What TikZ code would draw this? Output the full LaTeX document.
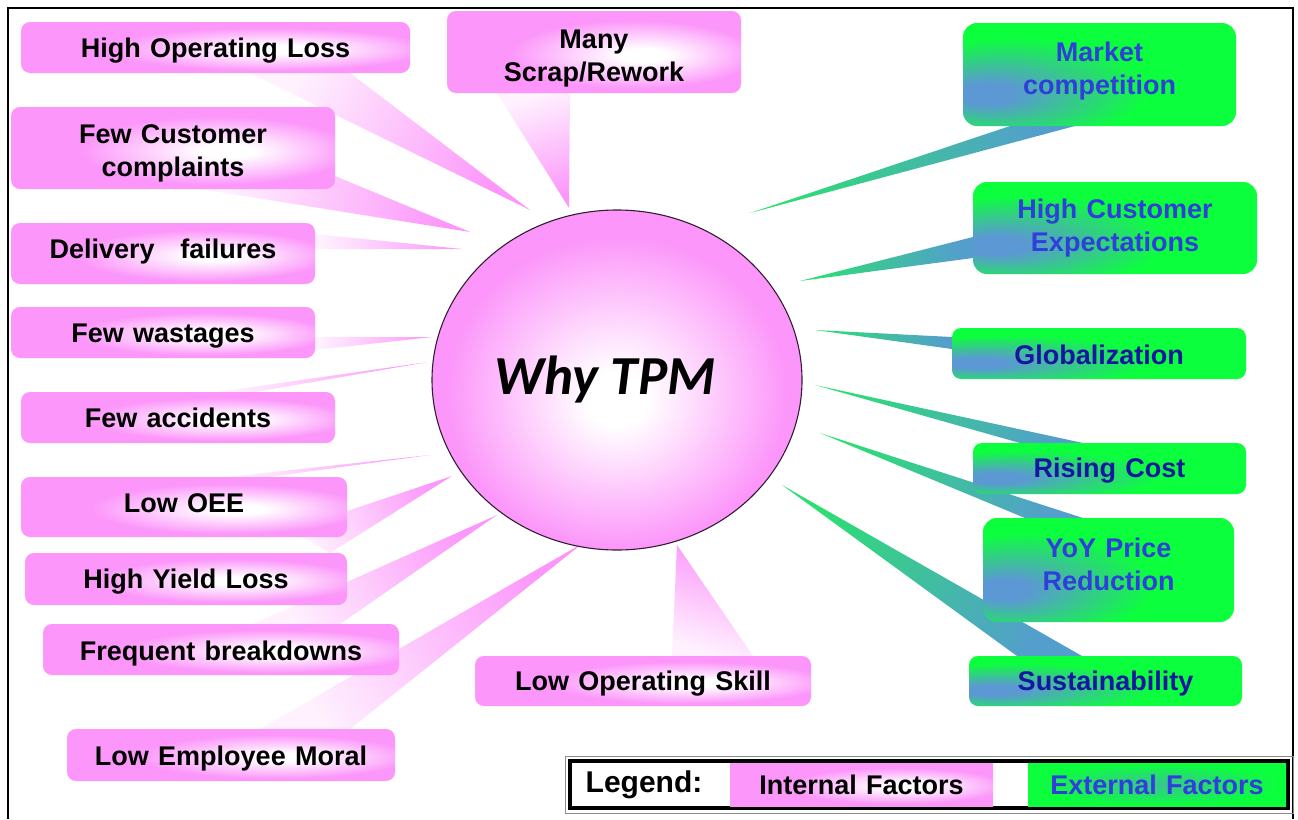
\documentclass[tikz,border=0pt]{standalone}
\usepackage{fontspec}
\setmainfont{Liberation Sans}[WordSpace=1.25]
\newfontfamily\calib{Carlito}
\usetikzlibrary{shapes.geometric}
\definecolor{pinkc}{RGB}{252,150,250}
\definecolor{gblue}{RGB}{92,152,212}
\definecolor{ggreen}{RGB}{12,255,60}
\definecolor{wtip}{RGB}{45,222,115}
\definecolor{wbase}{RGB}{84,158,205}
\definecolor{tblue}{RGB}{48,62,218}
\definecolor{tnavy}{RGB}{22,22,158}
\pgfdeclareradialshading{pinkglow}{\pgfpoint{9bp}{-2bp}}{color(0bp)=(white); color(4bp)=(white); color(21bp)=(pinkc); color(80bp)=(pinkc)}
\pgfdeclareradialshading{greenglow}{\pgfpoint{-22bp}{-10bp}}{color(0bp)=(gblue); color(5bp)=(gblue); color(25bp)=(ggreen); color(90bp)=(ggreen)}
\pgfdeclareradialshading{greenmid}{\pgfpoint{0bp}{0bp}}{color(0bp)=(gblue!55!ggreen); color(8bp)=(gblue!40!ggreen); color(24bp)=(ggreen); color(80bp)=(ggreen)}
\pgfdeclareradialshading{ballpink}{\pgfpoint{0bp}{-3bp}}{color(0bp)=(white); color(4bp)=(white); color(23bp)=(pinkc); color(60bp)=(pinkc)}
\newcommand\boxfont{\bfseries\fontsize{27}{33}\selectfont}
% text placed in a tabular, lowered (negative raise) without changing its box
\newcommand\tx[2]{\raisebox{#1}[\height][\depth]{\begin{tabular}{@{}c@{}}#2\end{tabular}}}
\newcommand\pwedge[4]{\shade[top color=pinkc!12!white, bottom color=pinkc, shading angle=#4] (#1) -- (#2) -- (#3) -- cycle;}
\newcommand\gwedge[4]{\shade[top color=wbase, bottom color=wtip, shading angle=#4] (#1) -- (#2) -- (#3) -- cycle;}
\begin{document}
\begin{tikzpicture}[x=1pt,y=-1pt,
  pbox/.style={shade, shading=pinkglow, rounded corners=9pt, inner sep=0pt, font=\boxfont, text=black},
  gbox/.style={shade, shading=greenglow, rounded corners=14pt, inner sep=0pt, font=\boxfont, text=tblue},
  frameline/.style={line width=1.2pt, black}]
\useasboundingbox (0,0) rectangle (1298,819);
\fill[white] (0,0) rectangle (1298,819);
\draw[frameline] (8,819) -- (8,8) -- (1293,8) -- (1293,819);

% wedge coordinates (pink)
\coordinate (holA) at (250,73);  \coordinate (holT) at (530,210); \coordinate (holB) at (350,73);
\coordinate (msrA) at (497,93);  \coordinate (msrT) at (569,208); \coordinate (msrB) at (570,93);
\coordinate (fccA) at (200,189); \coordinate (fccT) at (470,232); \coordinate (fccB) at (335,176);
\coordinate (dfA) at (315,234);  \coordinate (dfT) at (462,249);  \coordinate (dfB) at (315,249);
\coordinate (fwA) at (315,337);  \coordinate (fwT) at (432,337);  \coordinate (fwB) at (315,350);
\coordinate (faA) at (217,392);  \coordinate (faT) at (428,362);  \coordinate (faB) at (255,392);
\coordinate (oeeA) at (227,477); \coordinate (oeeT) at (430,455); \coordinate (oeeB) at (268,477);
\coordinate (hylA) at (290,530); \coordinate (hylT) at (452,476); \coordinate (hylB) at (330,553);
\coordinate (fbA) at (253,624);  \coordinate (fbT) at (497,515);  \coordinate (fbB) at (340,624);
\coordinate (lemA) at (260,729); \coordinate (lemT) at (583,543); \coordinate (lemB) at (350,729);
\coordinate (losA) at (672,656); \coordinate (losT) at (677,545); \coordinate (losB) at (753,656);
% wedge coordinates (green)
\coordinate (mcA) at (1010,126); \coordinate (mcT) at (750,213);  \coordinate (mcB) at (1075,126);
\coordinate (hceA) at (973,237); \coordinate (hceT) at (800,281); \coordinate (hceB) at (973,258);
\coordinate (glA) at (952,337);  \coordinate (glT) at (815,330);  \coordinate (glB) at (952,349);
\coordinate (rcA) at (1020,443); \coordinate (rcT) at (815,385);  \coordinate (rcB) at (1083,443);
\coordinate (yoyA) at (1025,518);\coordinate (yoyT) at (820,433); \coordinate (yoyB) at (1083,518);
\coordinate (suA) at (1017,656); \coordinate (suT) at (782,485);  \coordinate (suB) at (1082,656);

\pwedge{holA}{holT}{holB}{59}
\pwedge{msrA}{msrT}{msrB}{17}
\pwedge{fccA}{fccT}{fccB}{76}
\pwedge{dfA}{dfT}{dfB}{88}
\pwedge{fwA}{fwT}{fwB}{93}
\pwedge{faA}{faT}{faB}{99}
\pwedge{oeeA}{oeeT}{oeeB}{97}
\pwedge{hylA}{hylT}{hylB}{115}
\pwedge{fbA}{fbT}{fbB}{119}
\pwedge{lemA}{lemT}{lemB}{124}
\pwedge{losA}{losT}{losB}{163}
\gwedge{mcA}{mcT}{mcB}{-73}
\gwedge{hceA}{hceT}{hceB}{-79}
\gwedge{glA}{glT}{glB}{-95}
\gwedge{rcA}{rcT}{rcB}{-104}
\gwedge{yoyA}{yoyT}{yoyB}{-110}
\gwedge{suA}{suT}{suB}{-122}

% internal factor boxes
\node[pbox, minimum width=389pt, minimum height=51pt] (hol) at (215.5,47.5) {\tx{-3.5pt}{High Operating Loss}};
\node[pbox, minimum width=324pt, minimum height=82pt] (fcc) at (173,148) {\tx{-5.5pt}{Few Customer\\complaints}};
\node[pbox, minimum width=304pt, minimum height=61pt] (df) at (163,253.5) {\tx{2pt}{Delivery\hspace{0.6em} failures}};
\node[pbox, minimum width=304pt, minimum height=51pt] (fw) at (163,332.5) {\tx{-3.5pt}{Few wastages}};
\node[pbox, minimum width=314pt, minimum height=51pt] (fa) at (178,417.5) {\tx{-3pt}{Few accidents}};
\node[pbox, minimum width=326pt, minimum height=60pt] (oee) at (184,507) {\tx{1.5pt}{Low OEE}};
\node[pbox, minimum width=322pt, minimum height=52pt] (hyl) at (186,579) {\tx{-3pt}{High Yield Loss}};
\node[pbox, minimum width=356pt, minimum height=51pt] (fb) at (221,649.5) {\tx{-4pt}{Frequent breakdowns}};
\node[pbox, minimum width=328pt, minimum height=52pt] (lem) at (231,755) {\tx{-3.5pt}{Low Employee Moral}};
\node[pbox, minimum width=294pt, minimum height=82pt] (msr) at (594,52) {\tx{-6pt}{Many\\Scrap/Rework}};
\node[pbox, minimum width=336pt, minimum height=50pt] (los) at (643,681) {\tx{-3pt}{Low Operating Skill}};

% external factor boxes
\node[gbox, minimum width=273pt, minimum height=103pt] (mc) at (1099.5,74.5) {\tx{3.5pt}{Market\\competition}};
\node[gbox, minimum width=284pt, minimum height=92pt] (hce) at (1115,228) {\tx{0pt}{High Customer\\Expectations}};
\node[gbox, minimum width=294pt, minimum height=51pt, text=tnavy, rounded corners=9pt] (gl) at (1099,353.5) {\tx{-4pt}{Globalization}};
\node[gbox, minimum width=273pt, minimum height=51pt, text=tnavy, rounded corners=9pt] (rc) at (1109.5,468.5) {\tx{-2pt}{Rising Cost}};
\node[gbox, minimum width=251pt, minimum height=104pt] (yoy) at (1108.5,570) {\tx{2.5pt}{YoY Price\\Reduction}};
\node[gbox, minimum width=273pt, minimum height=50pt, text=tnavy, rounded corners=9pt] (su) at (1105.5,681) {\tx{-3pt}{Sustainability}};

% centre
\node[ellipse, minimum width=370pt, minimum height=340pt, draw=black!80!pinkc, line width=1.1pt, shade, shading=ballpink,
      font=\calib\bfseries\itshape\fontsize{55}{60}\selectfont, text=black] (why) at (617,380) {Why TPM\hspace*{24pt}\mbox{}};

% legend
\draw[black!45, line width=1pt] (565,756) rectangle (1293,813);
\draw[black, line width=4pt] (570,761) rectangle (1288,808);
\node[font=\bfseries\fontsize{30}{36}\selectfont, inner sep=0pt] (legt) at (644,785) {Legend:};
\node[shade, shading=pinkglow, inner sep=0pt, minimum width=263pt, minimum height=43pt,
      font=\bfseries\fontsize{27}{33}\selectfont] (legi) at (861.5,784.5) {Internal Factors};
\node[shade, shading=greenmid, inner sep=0pt, minimum width=258pt, minimum height=43pt, text=tblue,
      font=\bfseries\fontsize{27}{33}\selectfont] (lege) at (1157,784.5) {External Factors};
\end{tikzpicture}
\end{document}
